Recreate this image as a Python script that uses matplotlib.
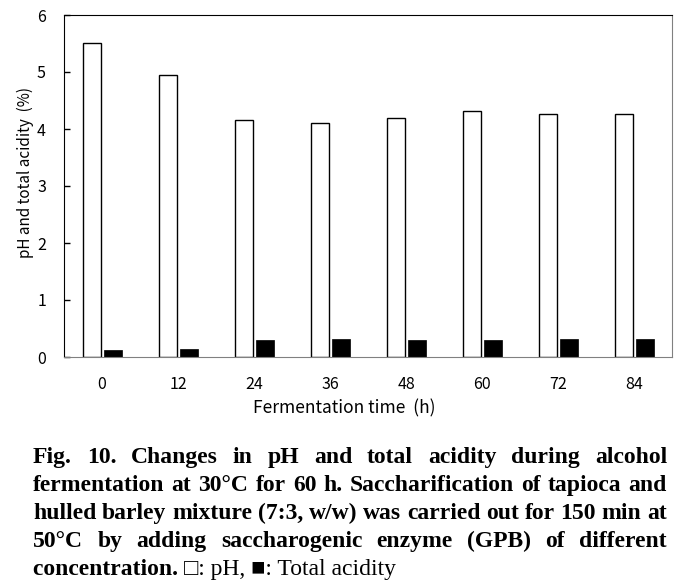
import numpy as np
import matplotlib
matplotlib.use("Agg")
import matplotlib.pyplot as plt

# data
times = ["0", "12", "24", "36", "48", "60", "72", "84"]
ph = [5.51, 4.95, 4.16, 4.11, 4.19, 4.31, 4.27, 4.26]
acidity = [0.12, 0.14, 0.29, 0.31, 0.30, 0.30, 0.31, 0.31]

caption_lines = [
    "Fig. 10. Changes in pH and total acidity during alcohol",
    "fermentation at 30\u00b0C for 60 h. Saccharification of tapioca and",
    "hulled barley mixture (7:3, w/w) was carried out for 150 min at",
    "50\u00b0C by adding saccharogenic enzyme (GPB) of different",
]

W, H = 698, 582
fig = plt.figure(figsize=(W / 100, H / 100), dpi=100)
ax = fig.add_axes([64 / W, 1 - 357 / H, 608 / W, 342 / H])

sans = ["Noto Sans CJK JP", "DejaVu Sans"]
x = np.arange(len(times))
bw = 0.235
ax.bar(x - 0.13, ph, width=bw, color="white", edgecolor="black", linewidth=1)
ax.bar(x + 0.14, acidity, width=bw, color="black", edgecolor="black", linewidth=0.5)

ax.set_xlim(-0.5, len(times) - 0.5)
ax.set_ylim(0, 6)
ax.set_xticks(x)
ax.set_xticklabels(times, family=sans, fontsize=11.5)
ax.set_yticks(range(7))
ax.set_yticklabels([str(v) for v in range(7)], family=sans, fontsize=11.5)
ax.tick_params(axis="x", length=0, pad=14)
ax.tick_params(axis="y", direction="in", length=4, width=1, pad=13)
for s in ["bottom", "right"]:
    ax.spines[s].set_color("#808080")
ax.set_xlabel("Fermentation time  (h)", family=sans, fontsize=12.5)
ax.set_ylabel("pH and total acidity  (%)", family=sans, fontsize=11)
ax.xaxis.set_label_coords((344 - 64) / 608, -(408 - 357) / 342)
ax.yaxis.set_label_coords(-(64 - 25) / 608, (357 - 172) / 342)
ax.xaxis.label.set_va("center")
ax.yaxis.label.set_va("center")

# justified caption
serif = ["Liberation Serif", "DejaVu Serif"]
fs = 17
renderer = fig.canvas.get_renderer()
x0, x1 = 33, 667
base = 463
step = 28


def width_of(t):
    return t.get_window_extent(renderer).width


for i, line in enumerate(caption_lines):
    y = 1 - (base + i * step) / H
    words = line.split(" ")
    texts = [fig.text(0, y, w, family=serif, weight="bold", fontsize=fs, va="baseline")
             for w in words]
    widths = [width_of(t) for t in texts]
    gap = (x1 - x0 - sum(widths)) / (len(words) - 1)
    pos = x0
    for t, wd in zip(texts, widths):
        t.set_x(pos / W)
        pos += wd + gap

y = 1 - (base + 4 * step) / H
t1 = fig.text(x0 / W, y, "concentration. ", family=serif, weight="bold", fontsize=fs, va="baseline")
pos = x0 + width_of(t1)
fig.text(pos / W, y, "\u25a1: pH, \u25a0: Total acidity", family=serif, fontsize=fs, va="baseline")

fig.savefig("out.png", dpi=100)
